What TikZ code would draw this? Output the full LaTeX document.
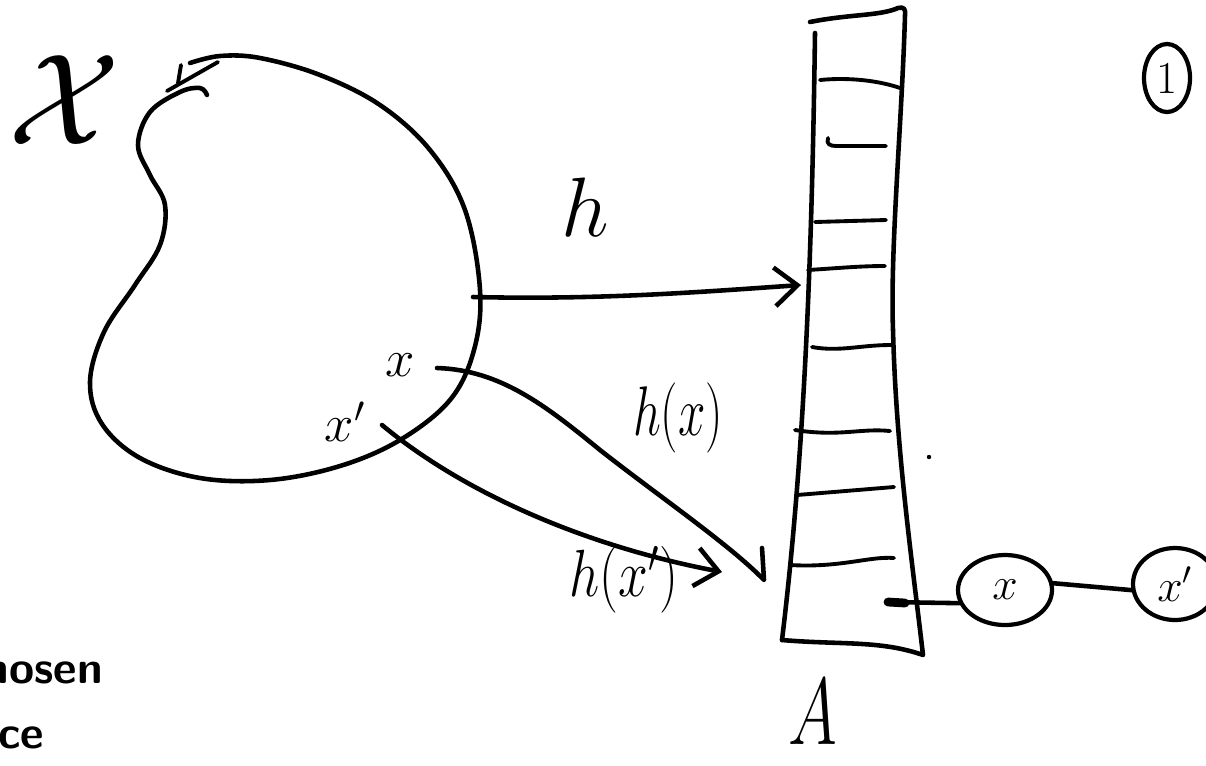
\RequirePackage{fix-cm}
\documentclass[tikz,border=0pt]{standalone}
\usetikzlibrary{arrows.meta,shapes.geometric}
\begin{document}
\begin{tikzpicture}[x=0.02cm,y=-0.02cm,
  pen/.style={line width=2.6pt,line cap=round,line join=round},
  thinpen/.style={line width=2.2pt,line cap=round,line join=round},
  barb/.style={-{Straight Barb[length=13pt,width=22pt,line width=2.6pt]}},
  lbl/.style={inner sep=0pt},
  bubble/.style={draw,ellipse,line width=2.4pt,inner sep=0pt}]
\useasboundingbox (0,0) rectangle (1206,765);
\begin{scope}
\clip (0,0) rectangle (1206,765);
% calligraphic X
\node[lbl] (calX) at (64,100) {\fontsize{74}{74}\selectfont$\mathcal{X}$};
% blob
\draw[pen] plot[smooth,tension=0.6] coordinates {(190,63) (220,56) (260,58) (320,75) (380,105) (430,150) (465,210) (480,290) (474,350) (450,400) (400,440) (340,466) (270,480) (200,478) (140,458) (102,424) (90,382) (104,332) (135,285) (160,245) (165,205) (150,175) (138,145) (150,112) (180,92) (200,88) (207,95)};
\draw[thinpen] (167,91) -- (218,62);
\draw[thinpen] (181,65) -- (178,83);
% named ends on the blob
\coordinate (bR) at (473,297);
\coordinate (ax) at (437,368);
\coordinate (axp) at (382,425);
% column A
\draw[pen] (810,22) .. controls (850,14) and (880,16) .. (898,8) .. controls (904,6) and (906,10) .. (905,15)
  .. controls (902,120) and (890,250) .. (893,330) .. controls (896,450) and (912,560) .. (923,655)
  .. controls (880,640) and (840,645) .. (782,640);
\draw[pen] (815,33) .. controls (812,250) and (805,450) .. (782,640);
\draw[thinpen] (820,80) .. controls (850,77) and (880,81) .. (900,88);
\draw[thinpen] (828,138) .. controls (826,144) and (830,146) .. (836,146) -- (886,146);
\draw[thinpen] (815,222) -- (886,220);
\draw[thinpen] (808,270) .. controls (840,268) and (860,266) .. (885,266);
\draw[thinpen] (812,347) .. controls (840,352) and (860,345) .. (891,345);
\draw[thinpen] (795,430) .. controls (840,437) and (860,428) .. (890,431);
\draw[thinpen] (797,495) -- (894,487);
\draw[thinpen] (790,565) .. controls (840,568) and (870,556) .. (894,558);
% targets on the column
\coordinate (colL) at (801,285);
\coordinate (tipx) at (764,580);
\coordinate (tipxp) at (722,572);
% arrows
\draw[pen,barb] (bR) .. controls (600,300) and (700,292) .. (colL);
\draw[pen] (ax) .. controls (500,370) and (545,405) .. (600,450) .. controls (660,497) and (730,545) .. (tipx) -- (762,548);
\draw[pen,barb] (axp) .. controls (460,490) and (580,545) .. (tipxp);
% labels
\node[lbl] (hlabel) at (585,207) {\fontsize{48}{48}\selectfont$h$};
\node[lbl,xscale=0.7] (hx) at (678,418) {\fontsize{40}{40}\selectfont$h(x)$};
\node[lbl,xscale=0.8] (hxp) at (624,580) {\fontsize{38}{38}\selectfont$h(x')$};
\node[lbl,xscale=0.7] (Alabel) at (813,712) {\fontsize{54}{54}\selectfont$A$};
\node[lbl] (xlab) at (400,365) {\fontsize{30}{30}\selectfont$x$};
\node[lbl] (xplab) at (345,422) {\fontsize{30}{30}\selectfont$x'$};
% dot
\fill (929,457) circle (2.2);
% chain
\coordinate (cs) at (888,602);
\node[bubble,minimum width=94*0.02cm,minimum height=70*0.02cm] (c1) at (1005,590) {\fontsize{26}{26}\selectfont$x$};
\node[bubble,minimum width=84*0.02cm,minimum height=72*0.02cm] (c2) at (1175,584) {\fontsize{26}{26}\selectfont$x'$};
\draw[pen] (cs) -- (c1.196);
\draw[line width=5pt,line cap=round] (cs) -- (905,603);
\draw[pen] (c1.8) -- (c2.188);
% circled one
\node[draw,ellipse,line width=2.4pt,minimum width=46*0.02cm,minimum height=68*0.02cm,inner sep=0pt] (one) at (1167,78) {\fontsize{26}{26}\selectfont 1};
% cut-off text
\node[lbl,anchor=base east] (chosen) at (103,683) {\fontsize{26}{26}\selectfont\sffamily\bfseries chosen};
\node[lbl,anchor=base west] (ce) at (-2,748) {\fontsize{26}{26}\selectfont\sffamily\bfseries ce};
\end{scope}
\end{tikzpicture}
\end{document}
